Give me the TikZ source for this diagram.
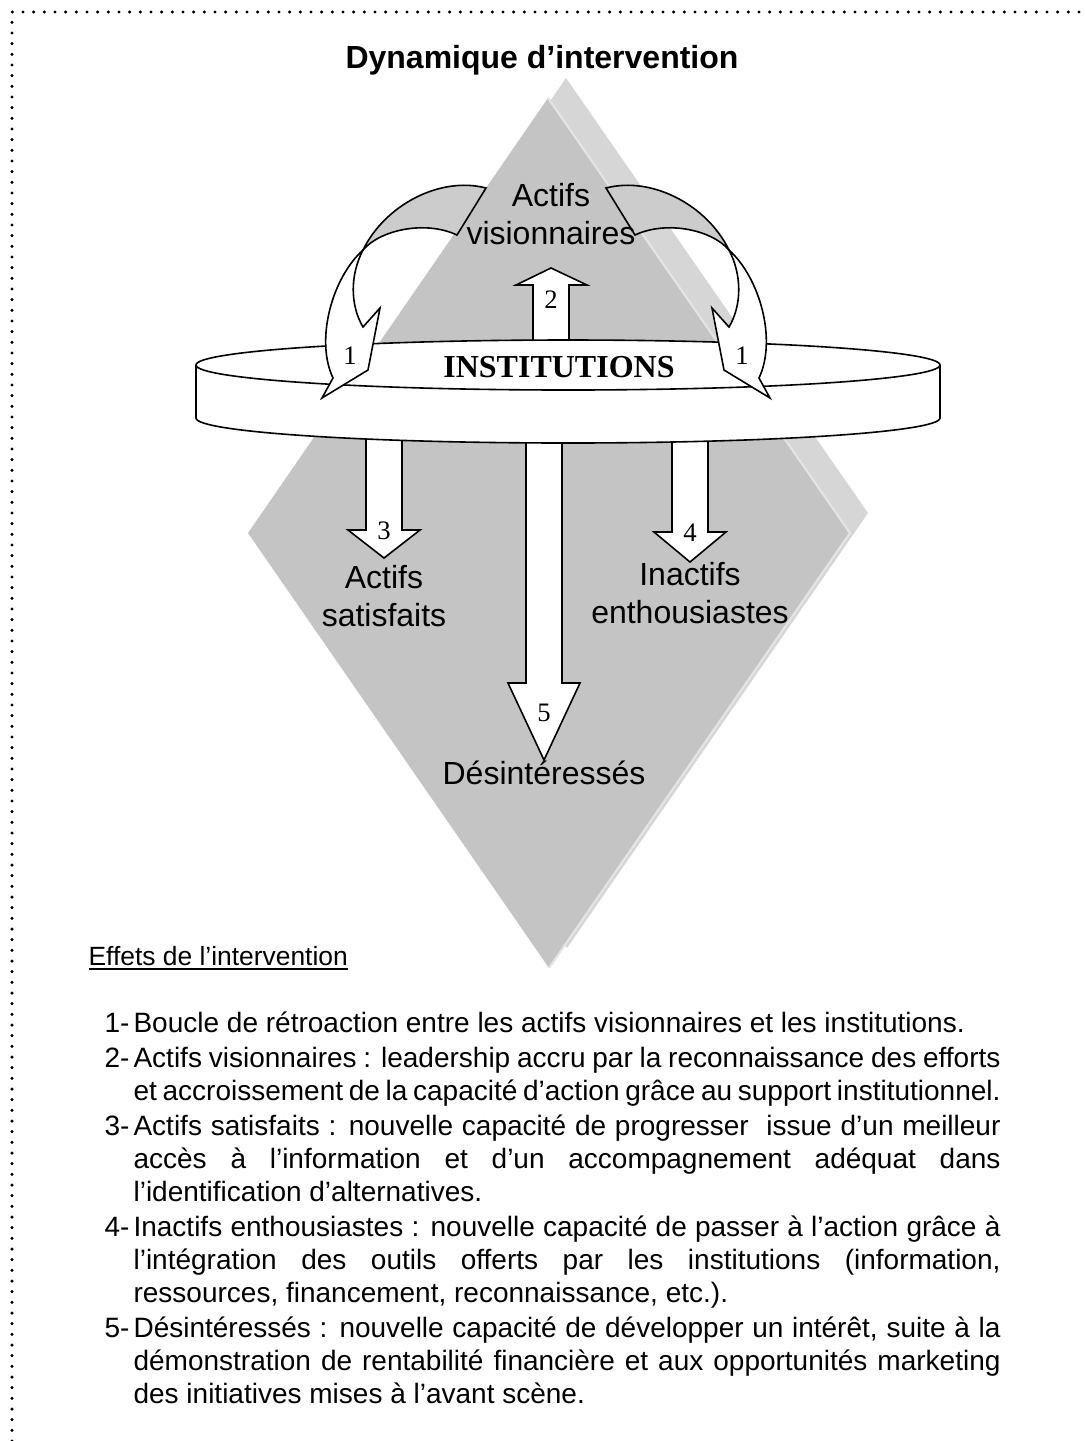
\documentclass[tikz,border=0pt]{standalone}
\usepackage{fontspec}
\setmainfont{Liberation Sans}
\newfontfamily\romfont{Liberation Serif}
\usetikzlibrary{positioning}
\definecolor{dvface}{RGB}{196,196,196}
\definecolor{dvside}{RGB}{214,214,214}
\definecolor{dvrim}{RGB}{228,228,228}
\definecolor{dvback}{RGB}{204,204,204}
\newcommand\effet[2]{\hangindent=10.9pt\hangafter=1\makebox[10.9pt][l]{#1-}#2\par}
\tikzset{
  blk/.style={draw=black, fill=white, line width=0.6pt, line join=miter},
  blkback/.style={blk, fill=dvback},
  tier/.style={align=center, inner sep=0pt, font=\fontsize{12}{14.25}\selectfont},
  num/.style={inner sep=0pt, font=\romfont\fontsize{10}{12}\selectfont},
  dotframe/.style={line width=1.3pt, line cap=round, dash pattern=on 0pt off 4pt},
  every picture/.append style={font=\fontsize{12}{14.25}\selectfont}
}

\begin{document}
\begin{tikzpicture}[x=0.375pt, y=-0.375pt]
  \useasboundingbox (0,0) rectangle (1085,1441);
  \draw[dotframe] (12,1441) -- (12,12) -- (1085,12);
  \node[anchor=base, inner sep=0pt, font=\fontsize{12}{14.25}\selectfont\bfseries] (title) at (542,68) {Dynamique d’intervention};

  % diamond with its side
  \fill[dvside] (566,78) -- (868,513) -- (567,948) -- (266,513) -- cycle;
  \fill[dvface] (548,98) -- (850,533) -- (549,968) -- (248,533) -- cycle;
  \draw[dvrim, line width=0.8pt] (548,98) -- (850,533) -- (549,968);

  % arrows 3, 4, 5 out of the disk
  \foreach \n/\x/\yb/\yt in {3/384/530/558, 4/690/532/562, 5/544/683/760} {
    \draw[blk] (\x-18,420) -- (\x-18,\yb) -- (\x-36,\yb) -- (\x,\yt) coordinate (tip\n)
      -- (\x+36,\yb) -- (\x+18,\yb) -- (\x+18,420);
  }
  % arrow 2
  \draw[blk] (533,360) -- (533,285) -- (516,285) -- (551,268) -- (587,285) -- (569,285) -- (569,360);

  % disk
  \draw[blk] (196,365) -- (196,418) arc[start angle=180, end angle=0, x radius=372, y radius=25] -- (940,365);
  \draw[blk] (568,365) ellipse[x radius=372, y radius=25];
  \node[inner sep=0pt, font=\romfont\fontsize{12}{14}\selectfont\bfseries] (inst) at (559,367) {INSTITUTIONS};

  % feedback loops (1)
  \foreach \s/\o/\k in {1/0/l, -1/1092/r} {
    \begin{scope}[shift={(\o,0)}, xscale=\s]
      \draw[blkback] (486,188) .. controls (440,176) and (385,205) .. (363,250)
        .. controls (380,230) and (425,220) .. (457,235) -- cycle;
      \draw[blk] (363,250) .. controls (332,278) and (315,340) .. (333,378) -- (322,398)
        -- (368,370) -- (380,308) -- (363,327) .. controls (350,305) and (350,275) .. cycle;
      \node[num] (one\k) at (350,356) {1};
    \end{scope}
  }
  \node[num] (two) at (551,300) {2};
  \foreach \n/\x/\y in {3/384/531, 4/690/533, 5/544/713} \node[num] (nb\n) at (\x,\y) {\n};

  % groups
  \node[tier, anchor=north] (visio) at (551,183) {Actifs\\visionnaires};
  \node[tier, below=2.6pt of tip3] (satis) {Actifs\\satisfaits};
  \node[tier, below=0pt of tip4] (enth) {Inactifs\\enthousiastes};
  \node[tier, below=0pt of tip5] (desint) {Désintéressés};

  % effects
  \node[anchor=base west, inner sep=0pt, font=\fontsize{9.9}{12.4}\selectfont] (effets) at (88,965) {\underline{Effets de l’intervention}};
  \node[anchor=base west, inner sep=0pt] (liste) at (104,1032) {\parbox[t]{336pt}{%
    \setlength{\parskip}{1pt}\fontsize{10.5}{12.3}\selectfont
    \hyphenpenalty=10000 \exhyphenpenalty=10000
    \effet{1}{Boucle de rétroaction entre les actifs visionnaires et les institutions.}
    \effet{2}{Actifs visionnaires : leadership accru par la reconnaissance des efforts\linebreak
      et accroissement de la capacité d’action grâce au support institutionnel.}
    \effet{3}{Actifs satisfaits : nouvelle capacité de progresser\ \ issue d’un meilleur\linebreak
      accès à l’information et d’un accompagnement adéquat dans\linebreak
      l’identification d’alternatives.}
    \effet{4}{Inactifs enthousiastes : nouvelle capacité de passer à l’action grâce à\linebreak
      l’intégration des outils offerts par les institutions (information,\linebreak
      ressources, financement, reconnaissance, etc.).}
    \effet{5}{Désintéressés : nouvelle capacité de développer un intérêt, suite à la\linebreak
      démonstration de rentabilité financière et aux opportunités marketing\linebreak
      des initiatives mises à l’avant scène.}}};
\end{tikzpicture}
\end{document}
